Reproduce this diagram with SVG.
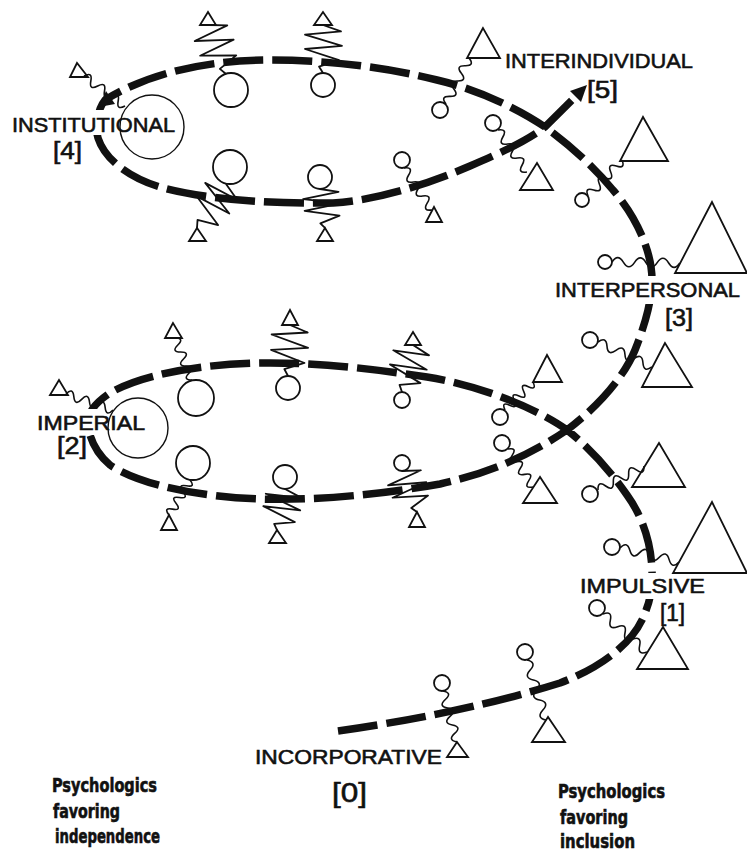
<svg xmlns="http://www.w3.org/2000/svg" width="747" height="855" viewBox="0 0 747 855">
<style>
.helix{fill:none;stroke:#111;stroke-width:7.5;stroke-dasharray:40 9}
.tri{fill:none;stroke:#111;stroke-width:1.8}
.cir{fill:none;stroke:#111;stroke-width:1.8}
.big{fill:none;stroke:#111;stroke-width:1.4}
.head{fill:#111}
.gap{fill:#fff}
.lbl{font-family:"Liberation Sans",Arial,sans-serif;font-size:21px;fill:#111;stroke:#111;stroke-width:0.6}
.num{font-family:"Liberation Sans",Arial,sans-serif;font-size:23px;fill:#111;stroke:#111;stroke-width:0.6}
.note{font-family:"Liberation Sans Narrow","DejaVu Sans Condensed",sans-serif;font-weight:bold;font-size:20px;fill:#111;stroke:#111;stroke-width:0.6}
</style>
<defs>
<path id="wave" fill="none" stroke="#111" stroke-width="1.6" vector-effect="non-scaling-stroke" d="M0,0 q5,-9 10,0 t10,0 t10,0 t10,0 t10,0 t10,0"/>
<path id="zig" fill="none" stroke="#111" stroke-width="1.8" stroke-linejoin="round" vector-effect="non-scaling-stroke" d="M0,0 L8,-18 L12,18 L26,-19 L30,18 L44,-16 L52,4 L60,0"/>
</defs>
<rect width="747" height="855" fill="#fff"/>

<g id="connectors">
<path id="helix" class="helix" d="M338,731 C400,722 480,708 560,683 C600,668 630,645 642,620 C650,603 652,590 652,580 C653,550 645,520 627,495 C615,478 595,452 567,430 C540,410 480,385 427,377 C380,370 320,362 260,363 C200,364 140,375 110,393 C95,403 88,413 88,422 C88,435 95,452 110,465 C140,485 200,497 260,499 C320,501 390,493 440,484 C490,473 530,455 567,430 C600,405 625,375 635,350 C645,325 652,300 652,280 C652,250 635,215 613,190 C595,168 570,145 545,127 C520,110 480,90 437,80 C390,68 330,60 270,60 C210,60 150,72 105,100 C97,110 95,128 98,138 C105,160 130,178 160,187 C200,198 260,204 333,203 C380,200 430,183 470,166 C500,153 525,142 545,127 L577,95"/>
<polygon class="head" points="99,107 115,104 106,91"/>
<polygon class="head" points="587,85 581,102 570,91"/>
<rect class="gap" x="84" y="110" width="26" height="25"/>
<rect class="gap" x="78" y="409" width="24" height="26"/>
<rect class="gap" x="640" y="276" width="24" height="28"/>
<rect class="gap" x="638" y="573" width="24" height="26"/>
</g>

<g id="p1"><polygon class="tri" points="208,12 200,25 216,25"/><use href="#zig" transform="translate(208,25) rotate(69.8) scale(0.87,1)"/><circle class="cir" cx="231" cy="90" r="17"/></g>
<g id="p2"><polygon class="tri" points="323,12 314,25 332,25"/><use href="#zig" transform="translate(323,25) rotate(90) scale(0.8,1)"/><circle class="cir" cx="323" cy="85" r="12"/></g>
<g id="p3"><polygon class="tri" points="197,228 189,241 206,241"/><use href="#zig" transform="translate(226,184) rotate(123.4) scale(0.878,1)"/><circle class="cir" cx="230" cy="167" r="17"/></g>
<g id="p4"><polygon class="tri" points="325,228 317,241 333,241"/><use href="#zig" transform="translate(320,189) rotate(82.7) scale(0.655,1)"/><circle class="cir" cx="320" cy="177" r="12"/></g>
<g id="p5"><polygon class="tri" points="483,28 467,58 500,58"/><use href="#wave" transform="translate(446,104) rotate(-63.4) scale(0.857,1)"/><circle class="cir" cx="440" cy="110" r="8"/></g>
<g id="p6"><polygon class="tri" points="537,163 520,190 553,190"/><use href="#wave" transform="translate(498,130) rotate(55.4) scale(0.85,1)"/><circle class="cir" cx="493" cy="123" r="8"/></g>
<g id="p7"><polygon class="tri" points="434,207 426,222 442,222"/><use href="#wave" transform="translate(404,168) rotate(56.3) scale(0.84,1)"/><circle class="cir" cx="402" cy="160" r="8"/></g>
<g id="p8"><polygon class="tri" points="643,117 620,161 668,161"/><use href="#wave" transform="translate(588,196) rotate(-46.6) scale(0.825,1)"/><circle class="cir" cx="582" cy="200" r="7"/></g>
<g id="p9"><polygon class="tri" points="712,202 675,273 747,273"/><use href="#wave" transform="translate(612,262) rotate(0.8) scale(1.13,1)"/><circle class="cir" cx="605" cy="262" r="7"/></g>
<g id="p10"><polygon class="tri" points="665,343 642,387 692,387"/><use href="#wave" transform="translate(598,342) rotate(24.8) scale(0.99,1)"/><circle class="cir" cx="590" cy="340" r="8"/></g>
<g id="p11"><polygon class="tri" points="173,323 165,338 182,338"/><use href="#wave" transform="translate(175,338) rotate(68) scale(0.755,1)"/><circle class="cir" cx="196" cy="398" r="18"/></g>
<g id="p12"><polygon class="tri" points="290,310 282,325 298,325"/><use href="#zig" transform="translate(290,325) rotate(92.2) scale(0.85,1)"/><circle class="cir" cx="288" cy="388" r="12"/></g>
<g id="p13"><polygon class="tri" points="413,332 405,345 421,345"/><use href="#zig" transform="translate(413,345) rotate(103.2) scale(0.805,1)"/><circle class="cir" cx="402" cy="400" r="8"/></g>
<g id="p14"><polygon class="tri" points="169,515 161,530 177,530"/><use href="#wave" transform="translate(190,480) rotate(121) scale(0.68,1)"/><circle class="cir" cx="193" cy="463" r="17"/></g>
<g id="p15"><polygon class="tri" points="277,530 269,543 286,543"/><use href="#zig" transform="translate(285,489) rotate(101) scale(0.697,1)"/><circle class="cir" cx="285" cy="477" r="12"/></g>
<g id="p16"><polygon class="tri" points="417,512 409,527 425,527"/><use href="#zig" transform="translate(402,471) rotate(69.9) scale(0.728,1)"/><circle class="cir" cx="402" cy="463" r="8"/></g>
<g id="p17"><polygon class="tri" points="547,355 533,382 562,382"/><use href="#wave" transform="translate(505,410) rotate(-45) scale(0.66,1)"/><circle class="cir" cx="500" cy="417" r="8"/></g>
<g id="p18"><polygon class="tri" points="540,477 523,503 557,503"/><use href="#wave" transform="translate(508,449) rotate(56.7) scale(0.758,1)"/><circle class="cir" cx="502" cy="443" r="8"/></g>
<g id="p19"><polygon class="tri" points="659,443 632,487 685,487"/><use href="#wave" transform="translate(598,490) rotate(-27.6) scale(0.865,1)"/><circle class="cir" cx="590" cy="494" r="8"/></g>
<g id="p20"><polygon class="tri" points="712,502 673,573 747,573"/><use href="#wave" transform="translate(620,548) rotate(13.3) scale(1.01,1)"/><circle class="cir" cx="612" cy="547" r="8"/></g>
<g id="p21"><polygon class="tri" points="663,627 637,669 688,669"/><use href="#wave" transform="translate(603,614) rotate(40.8) scale(0.968,1)"/><circle class="cir" cx="597" cy="608" r="8"/></g>
<g id="p22"><polygon class="tri" points="548,717 532,742 565,742"/><use href="#wave" transform="translate(527,660) rotate(72.4) scale(1.05,1)"/><circle class="cir" cx="525" cy="652" r="8"/></g>
<g id="p23"><polygon class="tri" points="457,742 447,757 468,757"/><use href="#wave" transform="translate(443,691) rotate(74.6) scale(0.88,1)"/><circle class="cir" cx="442" cy="683" r="8"/></g>
<g id="p24"><polygon class="tri" points="77,63 70,77 88,77"/><use href="#wave" transform="translate(84,76) rotate(36.2) scale(0.847,1)"/><circle class="big" cx="152" cy="127" r="32"/></g>
<g id="p25"><polygon class="tri" points="59,380 50,395 68,395"/><use href="#wave" transform="translate(66,394) rotate(18.8) scale(0.827,1)"/><circle class="big" cx="138" cy="428" r="30"/></g>

<g id="stage4"><text class="lbl" x="12" y="132" textLength="163" lengthAdjust="spacingAndGlyphs">INSTITUTIONAL</text><text class="num" x="53" y="159" textLength="29" lengthAdjust="spacingAndGlyphs">[4]</text></g>
<g id="stage5"><text class="lbl" x="505" y="68" textLength="188" lengthAdjust="spacingAndGlyphs">INTERINDIVIDUAL</text><text class="num" x="587" y="98" textLength="31" lengthAdjust="spacingAndGlyphs">[5]</text></g>
<g id="stage3"><text class="lbl" x="555" y="297" textLength="185" lengthAdjust="spacingAndGlyphs">INTERPERSONAL</text><text class="num" x="665" y="326" textLength="28" lengthAdjust="spacingAndGlyphs">[3]</text></g>
<g id="stage2"><text class="lbl" x="37" y="430" textLength="108" lengthAdjust="spacingAndGlyphs">IMPERIAL</text><text class="num" x="57" y="454" textLength="30" lengthAdjust="spacingAndGlyphs">[2]</text></g>
<g id="stage1"><text class="lbl" x="580" y="593" textLength="125" lengthAdjust="spacingAndGlyphs">IMPULSIVE</text><text class="num" x="660" y="621" textLength="25" lengthAdjust="spacingAndGlyphs">[1]</text></g>
<g id="stage0"><text class="lbl" x="255" y="764" textLength="187" lengthAdjust="spacingAndGlyphs">INCORPORATIVE</text><text class="num" x="332" y="802" style="font-size:27px" textLength="35" lengthAdjust="spacingAndGlyphs">[0]</text></g>
<g id="note-left"><text class="note" x="52" y="792" textLength="105" lengthAdjust="spacingAndGlyphs">Psychologics</text><text class="note" x="53" y="818" textLength="67" lengthAdjust="spacingAndGlyphs">favoring</text><text class="note" x="55" y="843" textLength="105" lengthAdjust="spacingAndGlyphs">independence</text></g>
<g id="note-right"><text class="note" x="558" y="798" textLength="107" lengthAdjust="spacingAndGlyphs">Psychologics</text><text class="note" x="560" y="824" textLength="68" lengthAdjust="spacingAndGlyphs">favoring</text><text class="note" x="560" y="848" textLength="75" lengthAdjust="spacingAndGlyphs">inclusion</text></g>
</svg>
